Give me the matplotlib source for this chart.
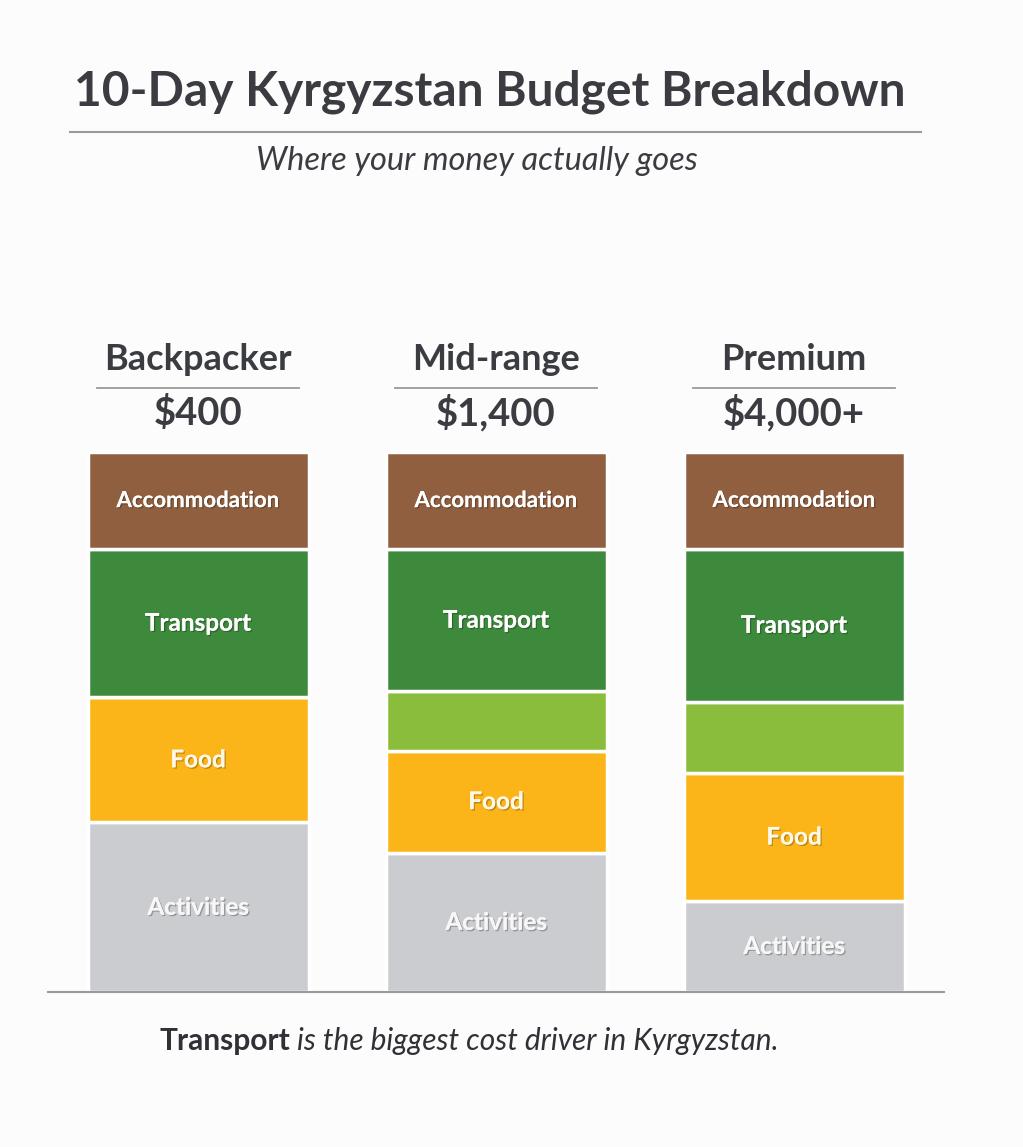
import numpy as np
import matplotlib.pyplot as plt
import matplotlib.patheffects as pe

plt.rcParams['font.family'] = ['Lato', 'DejaVu Sans']

# Data: share of each budget (percent of bar height), bottom to top
tiers = ['Backpacker', 'Mid-range', 'Premium']
prices = ['$400', '$1,400', '$4,000+']
segments = ['Activities', 'Food', 'Other', 'Transport', 'Accommodation']
activities = [31.4, 25.8, 16.9]
food = [23.2, 18.9, 23.6]
other = [0.0, 11.0, 13.2]
transport = [27.4, 26.3, 28.4]
accommodation = [18.0, 18.0, 17.9]
show_label = {'Activities': True, 'Food': True, 'Other': False,
              'Transport': True, 'Accommodation': True}
colors = {'Activities': '#cbcccf', 'Food': '#fbb518', 'Other': '#8bbd3d',
          'Transport': '#3e8a3d', 'Accommodation': '#905f40'}
label_colors = {'Activities': '#f7f7f7', 'Food': '#fff8e8', 'Other': 'white',
                'Transport': 'white', 'Accommodation': 'white'}

W, H = 1023, 1147
fig = plt.figure(figsize=(W / 100, H / 100), dpi=100)
fig.patch.set_facecolor('#fcfcfc')

def fx(px):
    return px / W

def fy(py):
    return 1 - py / H

dark = '#3a3c41'

# Title, rule, subtitle
fig.text(fx(490), fy(92), '10-Day Kyrgyzstan Budget Breakdown', ha='center', va='center',
         fontsize=34.5, fontweight='bold', color=dark)
fig.add_artist(plt.Line2D([fx(70), fx(921)], [fy(132), fy(132)], color='#9a9a9a', lw=1.5))
fig.text(fx(477), fy(161), 'Where your money actually goes', ha='center', va='center',
         fontsize=23.5, style='italic', color=dark)

# Bar axes: y 0..100 maps to pixels 992..452
base_px, top_px = 992, 452
spacing = 298.0
c0 = 198.0
ax = fig.add_axes([0, (H - base_px) / H, 1, (base_px - top_px) / H])
ax.set_xlim(-c0 / spacing, (W - c0) / spacing)
ax.set_ylim(0, 100)
ax.axis('off')
ax.patch.set_alpha(0)

x = np.arange(len(tiers))
values = {'Activities': activities, 'Food': food, 'Other': other,
          'Transport': transport, 'Accommodation': accommodation}
bottom = np.zeros(len(tiers))
width = 221 / spacing
shadow = [pe.withSimplePatchShadow(offset=(1, -1), shadow_rgbFace='black', alpha=0.25),
          pe.Normal()]
for seg in segments:
    vals = np.array(values[seg])
    ax.bar(x, vals, width=width, bottom=bottom, color=colors[seg],
           edgecolor='white', linewidth=2.5)
    if show_label[seg]:
        for xi, v, b in zip(x, vals, bottom):
            if v > 0:
                fs = 16 if seg == 'Accommodation' else 17.5
                ax.text(xi, b + v / 2, seg, ha='center', va='center', fontsize=fs,
                        fontweight='bold', color=label_colors[seg], path_effects=shadow)
    bottom += vals

# Baseline
fig.add_artist(plt.Line2D([fx(48), fx(944)], [fy(992), fy(992)], color='#9a9a9a', lw=1.5))

# Tier headings
for xi, name, price in zip(x, tiers, prices):
    cx = c0 + xi * spacing
    fig.text(fx(cx), fy(360), name, ha='center', va='center', fontsize=26,
             fontweight='bold', color=dark)
    fig.add_artist(plt.Line2D([fx(cx - 101), fx(cx + 101)], [fy(388), fy(388)],
                              color='#9a9a9a', lw=1.3))
    fig.text(fx(cx), fy(413), price, ha='center', va='center', fontsize=27.5,
             fontweight='bold', color=dark)

# Footer
t = fig.text(fx(160), fy(1041), 'Transport', ha='left', va='center', fontsize=21.5,
             fontweight='bold', color='#2f3136')
fig.canvas.draw()
bb = t.get_window_extent()
fig.text(bb.x1 / W + fx(6), fy(1041), 'is the biggest cost driver in Kyrgyzstan.',
         ha='left', va='center', fontsize=21.5, style='italic', color='#2f3136')

fig.savefig('out.png', dpi=100, facecolor=fig.get_facecolor())
